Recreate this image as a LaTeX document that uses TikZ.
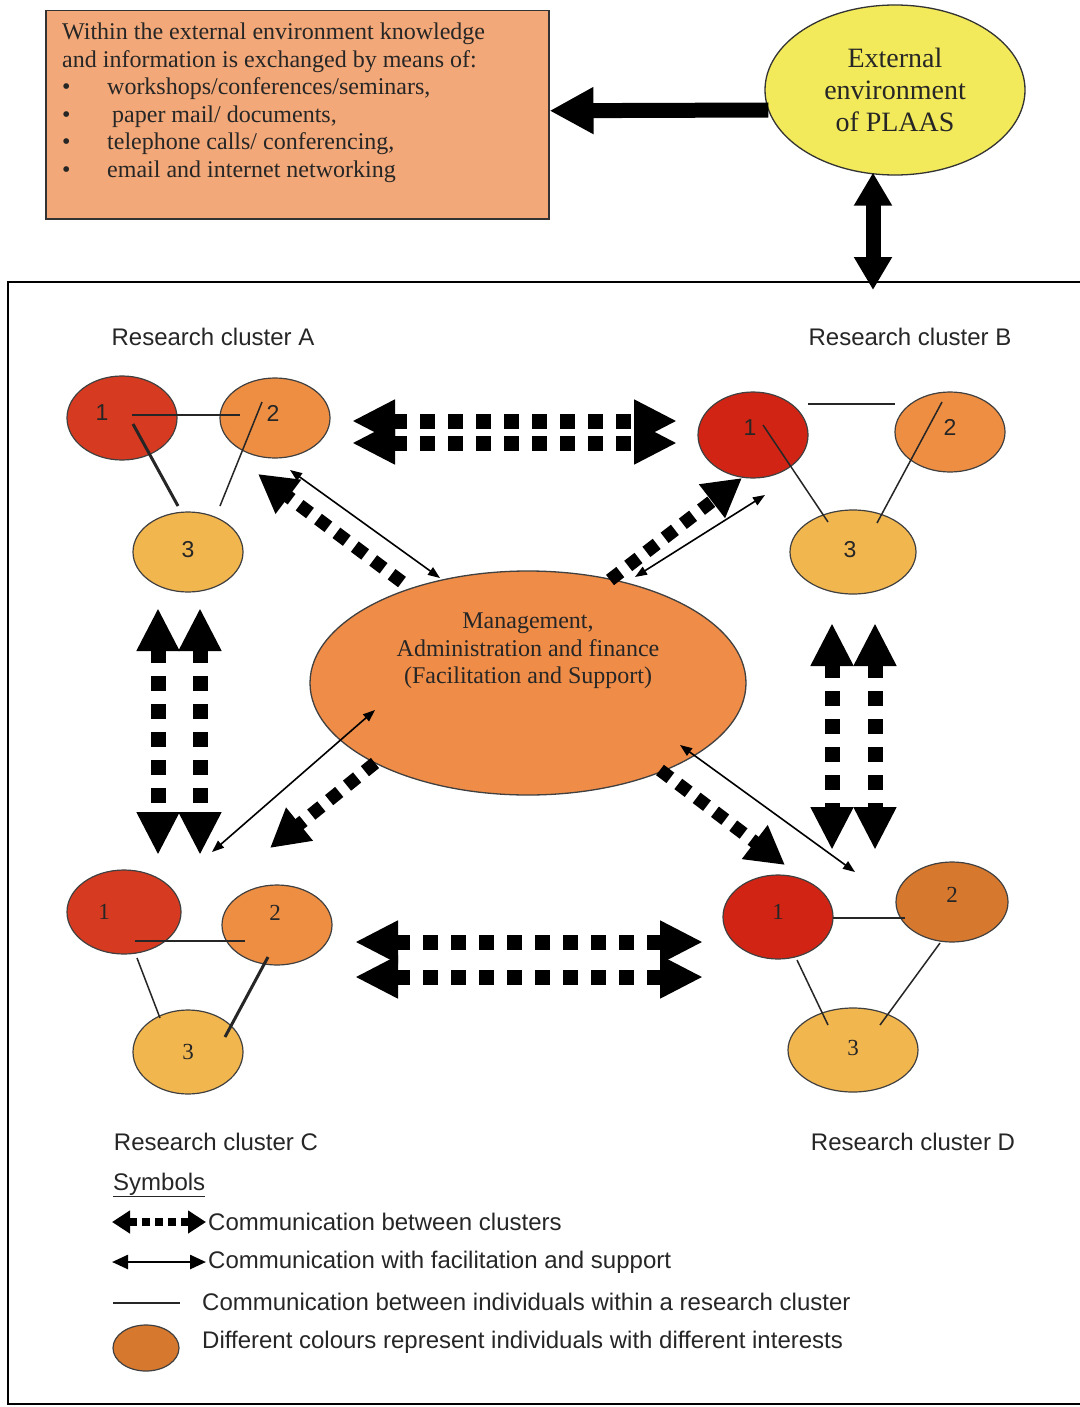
\documentclass[tikz,border=0pt]{standalone}
\usepackage{fontspec}
\setmainfont{Liberation Serif}
\setsansfont{Liberation Sans}
\usetikzlibrary{shapes.geometric,arrows.meta}
\definecolor{boxc}{RGB}{242,168,120}
\definecolor{yell}{RGB}{242,234,90}
\definecolor{redA}{RGB}{214,58,32}
\definecolor{redB}{RGB}{210,36,20}
\definecolor{orA}{RGB}{238,142,66}
\definecolor{orD}{RGB}{214,120,46}
\definecolor{ltA}{RGB}{242,182,78}
\definecolor{midc}{RGB}{238,140,72}
\begin{document}
\begin{tikzpicture}[x=1pt,y=-1pt,
  cell/.style={ellipse,draw=black!75,line width=1.2pt,inner sep=0pt},
  numA/.style={font=\sffamily\fontsize{23}{24}\selectfont,text=black!85},
  numC/.style={font=\rmfamily\fontsize{23}{24}\selectfont,text=black!85},
  clab/.style={font=\sffamily\fontsize{24}{27}\selectfont,text=black!85},
  ltxt/.style={font=\sffamily\fontsize{24}{27}\selectfont,text=black!85,anchor=west,inner sep=0pt},
  inline/.style={line width=1.5pt,draw=black!85},
  inthick/.style={line width=3pt,draw=black!85},
  dotarr/.style={line width=15pt,dash pattern=on 15pt off 13pt,
    arrows={Triangle[length=43pt,width=40pt]-Triangle[length=43pt,width=40pt]}},
  dotone/.style={line width=13pt,dash pattern=on 13pt off 10pt,
    arrows={-Triangle[length=38pt,width=40pt]}},
  thinarr/.style={line width=1.6pt,arrows={Triangle[length=12pt,width=9pt]-Triangle[length=12pt,width=9pt]}},
  bigarr/.style={line width=15pt,arrows={-Triangle[length=44pt,width=44pt]}},
  vbigarr/.style={line width=15pt,arrows={Triangle[length=33pt,width=36pt]-Triangle[length=33pt,width=36pt]}}
]
\useasboundingbox (0,0) rectangle (1079,1407);
\fill[white] (0,0) rectangle (1079,1407);

% outer frame
\draw[line width=2.5pt] (1095,282) -- (8,282) -- (8,1404) -- (1095,1404);

% info box
\node[draw=black!80,line width=1.5pt,fill=boxc,minimum width=503pt,minimum height=208pt,
  anchor=north west,inner sep=0pt] (info) at (45,10) {};
\node[anchor=north west,inner sep=0pt,align=left,
  font=\rmfamily\fontsize{24}{27.5}\selectfont,text=black!85] (infotext) at (62,23)
  {Within the external environment knowledge\\
   and information is exchanged by means of:\\
   \makebox[45pt][l]{\textbullet}workshops/conferences/seminars,\\
   \makebox[45pt][l]{\textbullet}\hspace{5pt}paper mail/ documents,\\
   \makebox[45pt][l]{\textbullet}telephone calls/ conferencing,\\
   \makebox[45pt][l]{\textbullet}email and internet networking};

% external environment
\node[ellipse,draw=black!80,line width=1.3pt,fill=yell,minimum width=260pt,minimum height=170pt,
  inner sep=0pt,align=center,font=\rmfamily\fontsize{28}{32}\selectfont,text=black!85] (E) at (895,90)
  {External\\environment\\of PLAAS};
\coordinate (ftop) at (873,290);

% cluster labels
\node[clab] (labA) at (213,337) {Research cluster A};
\node[clab] (labB) at (910,337) {Research cluster B};
\node[clab] (labC) at (216,1142) {Research cluster C};
\node[clab] (labD) at (913,1142) {Research cluster D};

% cluster A
\node[cell,fill=redA,minimum width=110pt,minimum height=84pt,label={[numA,xshift=-20pt,yshift=5pt]center:1}] (A1) at (122,418) {};
\node[cell,fill=orA,minimum width=110pt,minimum height=80pt,label={[numA,xshift=-2pt,yshift=5pt]center:2}] (A2) at (275,418) {};
\node[cell,fill=ltA,minimum width=110pt,minimum height=80pt,label={[numA,yshift=2pt]center:3}] (A3) at (188,552) {};

% cluster B
\node[cell,fill=redB,minimum width=110pt,minimum height=86pt,label={[numA,xshift=-3pt,yshift=7pt]center:1}] (B1) at (753,435) {};
\node[cell,fill=orA,minimum width=110pt,minimum height=80pt,label={[numA,yshift=5pt]center:2}] (B2) at (950,432) {};
\node[cell,fill=ltA,minimum width=126pt,minimum height=84pt,label={[numA,xshift=-3pt,yshift=2pt]center:3}] (B3) at (853,552) {};

% cluster C
\node[cell,fill=redA,minimum width=114pt,minimum height=84pt,label={[numC,xshift=-20pt]center:1}] (C1) at (124,912) {};
\node[cell,fill=orA,minimum width=110pt,minimum height=80pt,label={[numC,xshift=-2pt,yshift=12pt]center:2}] (C2) at (277,925) {};
\node[cell,fill=ltA,minimum width=110pt,minimum height=84pt,label={[numC]center:3}] (C3) at (188,1052) {};

% cluster D
\node[cell,fill=redB,minimum width=110pt,minimum height=84pt,label={[numC,yshift=5pt]center:1}] (D1) at (778,917) {};
\node[cell,fill=orD,minimum width=112pt,minimum height=80pt,label={[numC,yshift=7pt]center:2}] (D2) at (952,902) {};
\node[cell,fill=ltA,minimum width=130pt,minimum height=84pt,label={[numC,yshift=2pt]center:3}] (D3) at (853,1050) {};

% centre
\node[ellipse,draw=black!75,line width=1.3pt,fill=midc,minimum width=436pt,minimum height=224pt,inner sep=0pt] (M) at (528,683) {};
\node[align=center,inner sep=0pt,font=\rmfamily\fontsize{24}{27.5}\selectfont,text=black!85] (Mtext) at (528,651)
  {Management,\\Administration and finance\\(Facilitation and Support)};

% links within clusters
\draw[inline] ([xshift=10pt,yshift=3pt]A1.center) -- ([xshift=-35pt,yshift=3pt]A2.center);
\draw[inthick] ([xshift=11pt,yshift=-6pt]A1.center) -- ([xshift=-10pt,yshift=46pt]A3.center);
\draw[inline] ([xshift=-13pt,yshift=16pt]A2.center) -- ([xshift=32pt,yshift=46pt]A3.center);

\draw[inline] ([xshift=55pt,yshift=31pt]B1.center) -- ([xshift=-55pt,yshift=28pt]B2.center);
\draw[inline] ([xshift=10pt,yshift=10pt]B1.center) -- ([xshift=-25pt,yshift=30pt]B3.center);
\draw[inline] ([xshift=-8pt,yshift=30pt]B2.center) -- ([xshift=24pt,yshift=29pt]B3.center);

\draw[inline] ([xshift=11pt,yshift=-29pt]C1.center) -- ([xshift=-32pt,yshift=-16pt]C2.center);
\draw[inline] ([xshift=13pt,yshift=-46pt]C1.center) -- ([xshift=-28pt,yshift=34pt]C3.center);
\draw[inthick] ([xshift=-9pt,yshift=-32pt]C2.center) -- ([xshift=37pt,yshift=15pt]C3.center);

\draw[inline] ([xshift=55pt,yshift=-1pt]D1.center) -- ([xshift=-47pt,yshift=-16pt]D2.center);
\draw[inline] ([xshift=19pt,yshift=-43pt]D1.center) -- ([xshift=-25pt,yshift=25pt]D3.center);
\draw[inline] ([xshift=-12pt,yshift=-41pt]D2.center) -- ([xshift=27pt,yshift=25pt]D3.center);

% external arrows
\draw[bigarr] ([xshift=4pt,yshift=-20pt]E.west) -- ([yshift=4pt]info.east);
\draw[vbigarr] ([xshift=-22pt,yshift=3pt]E.south) -- (ftop);

% between clusters
\draw[dotarr] ([xshift=77pt,yshift=-3pt]A2.center) -- ([xshift=-76pt,yshift=14pt]B1.center);
\draw[dotarr] ([xshift=77pt,yshift=-25pt]A2.center) -- ([xshift=-76pt,yshift=-8pt]B1.center);
\draw[dotarr] ([xshift=78pt,yshift=-17pt]C2.center) -- ([xshift=-75pt,yshift=-25pt]D1.center);
\draw[dotarr] ([xshift=78pt,yshift=-52pt]C2.center) -- ([xshift=-75pt,yshift=-60pt]D1.center);
\draw[dotarr] ([xshift=-30pt,yshift=-56pt]A3.center) -- ([xshift=34pt,yshift=57pt]C1.center);
\draw[dotarr] ([xshift=12pt,yshift=-56pt]A3.center) -- ([xshift=76pt,yshift=57pt]C1.center);
\draw[dotarr] ([xshift=-21pt,yshift=-71pt]B3.center) -- ([xshift=54pt,yshift=67pt]D1.center);
\draw[dotarr] ([xshift=22pt,yshift=-71pt]B3.center) -- ([xshift=97pt,yshift=67pt]D1.center);

% centre to clusters (dotted)
\draw[dotone] ([xshift=-126pt,yshift=101pt]M.center) -- ([xshift=-17pt,yshift=-56pt]A2.center);
\draw[dotone] ([xshift=82pt,yshift=103pt]M.center) -- ([xshift=-11pt,yshift=-43pt]B1.center);
\draw[dotone] ([xshift=-153pt,yshift=-80pt]M.center) -- ([xshift=-7pt,yshift=77pt]C2.center);
\draw[dotone] ([xshift=132pt,yshift=-87pt]M.center) -- ([xshift=7pt,yshift=52pt]D1.center);

% centre to clusters (thin)
\draw[thinarr] ([xshift=15pt,yshift=-52pt]A2.center) -- ([xshift=-88pt,yshift=105pt]M.center);
\draw[thinarr] ([xshift=107pt,yshift=106pt]M.center) -- ([xshift=12pt,yshift=-60pt]B1.center);
\draw[thinarr] ([xshift=-153pt,yshift=-27pt]M.center) -- ([xshift=88pt,yshift=60pt]C1.center);
\draw[thinarr] ([xshift=152pt,yshift=-62pt]M.center) -- ([xshift=77pt,yshift=45pt]D1.center);

% legend
\node[font=\sffamily\fontsize{24}{27}\selectfont,text=black!85,anchor=west,inner sep=0pt] (sym) at (113,1185) {\underline{Symbols}};
\coordinate (l1a) at (112,1222); \coordinate (l1b) at (206,1222);
\coordinate (l2a) at (112,1262); \coordinate (l2b) at (206,1262);
\coordinate (l3a) at (113,1303); \coordinate (l3b) at (180,1303);
\draw[line width=8pt,dash pattern=on 8pt off 5pt,
  arrows={Triangle[length=18pt,width=22pt]-Triangle[length=18pt,width=22pt]}] (l1a) -- (l1b);
\draw[line width=2.5pt,arrows={Triangle[length=16pt,width=14pt]-Triangle[length=16pt,width=14pt]}] (l2a) -- (l2b);
\draw[line width=2pt,draw=black!85] (l3a) -- (l3b);
\node[cell,fill=orD,minimum width=66pt,minimum height=46pt] (lcell) at (146,1348) {};
\node[ltxt] (t1) at (208,1222) {Communication between clusters};
\node[ltxt] (t2) at (208,1262) {Communication with facilitation and support};
\node[ltxt] (t3) at (202,1302) {Communication between individuals within a research cluster};
\node[ltxt] (t4) at (202,1342) {Different colours represent individuals with different interests};
\end{tikzpicture}
\end{document}
